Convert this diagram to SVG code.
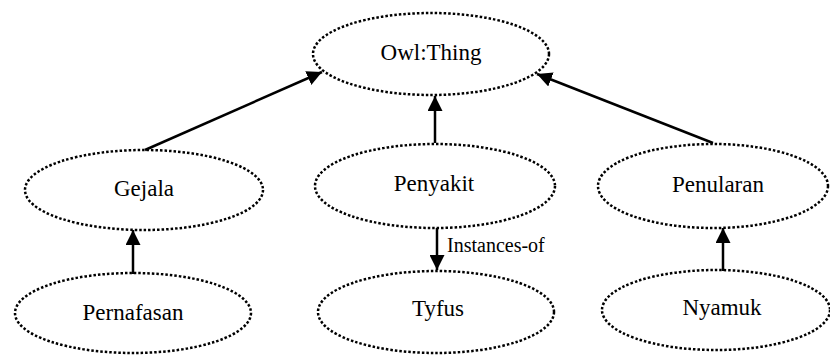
<svg xmlns="http://www.w3.org/2000/svg" width="830" height="356" viewBox="0 0 830 356">
<style>
.n{fill:none;stroke:#000;stroke-width:2.5;stroke-dasharray:2.5 2}
.c{stroke:#000;stroke-width:2.5;fill:none;marker-end:url(#a)}
text{font-family:"Liberation Serif","Times New Roman",serif;fill:#000}
</style>
<defs>
<marker id="a" markerWidth="6" markerHeight="6" refX="6" refY="3" orient="auto" markerUnits="strokeWidth">
<path d="M0,0 L6,3 L0,6 Z" fill="#000"/>
</marker>
</defs>
<rect width="830" height="356" fill="#fff"/>
<g id="owl"><ellipse class="n" cx="431" cy="54" rx="118" ry="41"/><text x="431" y="60" font-size="23" text-anchor="middle">Owl:Thing</text></g>
<g id="gejala"><ellipse class="n" cx="144" cy="190" rx="119" ry="40"/><text x="144" y="196" font-size="23" text-anchor="middle">Gejala</text></g>
<g id="penyakit"><ellipse class="n" cx="435" cy="186" rx="120" ry="42"/><text x="434" y="191" font-size="23" text-anchor="middle">Penyakit</text></g>
<g id="penularan"><ellipse class="n" cx="713" cy="186" rx="115" ry="42"/><text x="718" y="192" font-size="23" text-anchor="middle">Penularan</text></g>
<g id="pernafasan"><ellipse class="n" cx="133" cy="313" rx="118" ry="40"/><text x="133" y="320" font-size="23" text-anchor="middle">Pernafasan</text></g>
<g id="tyfus"><ellipse class="n" cx="436" cy="312" rx="118" ry="41"/><text x="438" y="316" font-size="23" text-anchor="middle">Tyfus</text></g>
<g id="nyamuk"><ellipse class="n" cx="716" cy="310" rx="114" ry="40"/><text x="722" y="315" font-size="23" text-anchor="middle">Nyamuk</text></g>
<g id="connectors">
<line class="c" x1="145" y1="150" x2="322" y2="72"/>
<line class="c" x1="435" y1="143" x2="435" y2="96"/>
<line class="c" x1="713" y1="143" x2="537" y2="74"/>
<line class="c" x1="133" y1="274" x2="133" y2="230"/>
<line class="c" x1="437" y1="228" x2="437" y2="270"/>
<line class="c" x1="723" y1="271" x2="723" y2="228"/>
<text x="447" y="252" font-size="20">Instances-of</text>
</g>
</svg>
